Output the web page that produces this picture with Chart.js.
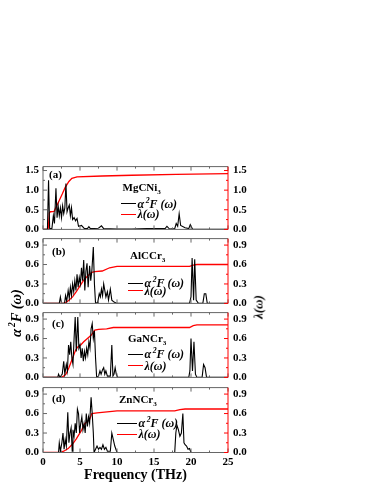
<!DOCTYPE html>
<html>
<head>
<meta charset="utf-8">
<script src="https://cdn.jsdelivr.net/npm/chart.js@4.4.0/dist/chart.umd.min.js"></script>
<style>
  body { margin: 0; background: #fff; }
  #wrap { position: relative; width: 374px; height: 484px; overflow: hidden; font-family: "Liberation Serif", "DejaVu Serif", serif; }
  canvas { position: absolute; left: 0; }
  .t { position: absolute; white-space: nowrap; transform: translateY(-50%); color: #000; line-height: 1; }
  .b { font-weight: bold; }
  .i { font-style: italic; }
  .ln { position: absolute; height: 0; }
  sup, sub { font-size: 65%; line-height: 0; }
</style>
</head>
<body>
<div id="wrap">
  <canvas id="c0" width="374" height="86" style="top:155px"></canvas>
  <canvas id="c1" width="374" height="88" style="top:227px"></canvas>
  <canvas id="c2" width="374" height="88" style="top:301px"></canvas>
  <canvas id="c3" width="374" height="108" style="top:376px"></canvas>
</div>
<script>
// frequency axis
const freqTicks = [0, 5, 10, 15, 20, 25];
const freqMinor = [2.5, 7.5, 12.5, 17.5, 22.5];
const ticksA = [0, 0.5, 1.0, 1.5];
const ticksBCD = [0, 0.3, 0.6, 0.9];

const compounds = ['MgCNi', 'AlCCr', 'GaNCr', 'ZnNCr'];
const panelTags = ['(a)', '(b)', '(c)', '(d)'];

// [frequency THz, value]
const mgSpec = [[0,0],[0.6,0],[0.75,1.25],[0.9,0.02],[1.2,0.02],[1.4,0.35],[1.55,0.15],[1.75,1.05],[1.9,0.3],[2.05,0.6],[2.2,0.35],[2.35,0.55],[2.5,0.3],[2.65,0.6],[2.8,0.4],[2.95,0.55],[3.1,1.17],[3.25,0.45],[3.4,0.55],[3.55,0.62],[3.7,0.35],[3.85,0.55],[4.0,0.25],[4.2,0.3],[4.4,0.22],[4.6,0.28],[4.8,0.08],[5.2,0.1],[5.6,0.02],[6.0,0.02],[6.2,0.07],[6.4,0.02],[7.5,0.03],[7.9,0.09],[8.2,0.02],[10,0.01],[12,0.01],[14,0.02],[16.5,0.02],[16.75,0.08],[17.1,0.01],[17.8,0.02],[18.0,0.15],[18.2,0.08],[18.4,0.4],[18.6,0.1],[19.2,0.04],[19.7,0.02],[19.9,0.12],[20.2,0.01],[25,0]];
const mgLam = [[0,0],[0.7,0],[0.85,0.42],[1.0,0.45],[1.5,0.46],[2.1,0.7],[2.6,0.9],[3.0,1.07],[3.5,1.22],[3.9,1.3],[4.6,1.34],[8,1.36],[12,1.38],[18,1.4],[25,1.42]];

const alSpec = [[0,0],[2.2,0],[2.35,0.1],[2.5,0],[2.9,0],[3.05,0.12],[3.2,0.03],[3.4,0.2],[3.55,0.08],[3.7,0.25],[3.85,0.12],[4.0,0.3],[4.15,0.18],[4.3,0.35],[4.45,0.2],[4.6,0.45],[4.75,0.25],[4.9,0.4],[5.05,0.3],[5.2,0.55],[5.35,0.35],[5.5,0.67],[5.65,0.2],[5.8,0.5],[5.95,0.62],[6.1,0.25],[6.3,0.58],[6.45,0.35],[6.6,0.5],[6.8,0.87],[6.95,0.3],[7.1,0],[7.4,0.02],[7.6,0.15],[7.75,0.1],[7.9,0.22],[8.05,0.12],[8.2,0.3],[8.35,0.2],[8.5,0.1],[8.7,0.18],[8.85,0.05],[9.1,0.22],[9.3,0.05],[9.6,0.02],[10,0],[19.8,0],[20.0,0.1],[20.15,0.7],[20.35,0.05],[20.5,0.68],[20.7,0.05],[21.0,0],[21.6,0],[21.8,0.15],[22.0,0.15],[22.2,0],[25,0]];
const alLam = [[0,0],[2.8,0],[3.3,0.03],[4.0,0.1],[4.5,0.18],[5.0,0.27],[5.5,0.36],[6.0,0.42],[6.6,0.48],[7.0,0.49],[8.0,0.5],[9.0,0.55],[10.0,0.57],[19.8,0.57],[20.3,0.59],[20.8,0.6],[25,0.6]];

const gaSpec = [[0,0],[2.0,0],[2.1,0.05],[2.3,0],[2.6,0.05],[2.8,0.25],[2.95,0.05],[3.15,0.2],[3.3,0.1],[3.45,0.5],[3.6,0.35],[3.75,0.55],[3.9,0.3],[4.05,0.2],[4.2,0.6],[4.35,0.93],[4.5,0.4],[4.7,0.93],[4.85,0.45],[5.0,0.5],[5.15,0.3],[5.3,0.45],[5.45,0.25],[5.6,0.4],[5.75,0.3],[5.9,0.45],[6.05,0.35],[6.2,0.55],[6.35,0.45],[6.5,0.75],[6.65,0.83],[6.8,0.6],[6.95,0.72],[7.1,0.3],[7.25,0],[7.5,0.02],[7.7,0.1],[7.85,0.05],[8.05,0.12],[8.2,0.15],[8.35,0.05],[8.5,0.1],[8.7,0.02],[9.1,0.02],[9.3,0.5],[9.45,0.02],[9.6,0.05],[9.75,0.15],[9.9,0.05],[10.1,0],[19.7,0],[19.85,0.1],[20.0,0.6],[20.2,0.1],[20.4,0.55],[20.6,0.05],[20.8,0],[21.5,0],[21.7,0.2],[21.9,0.15],[22.1,0],[25,0]];
const gaLam = [[0,0],[2.4,0],[2.8,0.02],[3.1,0.05],[3.5,0.15],[4.0,0.3],[4.4,0.42],[4.7,0.47],[5.1,0.5],[5.5,0.55],[6.0,0.6],[6.5,0.65],[7.0,0.73],[7.5,0.74],[8.6,0.75],[9.5,0.77],[19.8,0.77],[20.3,0.8],[20.8,0.81],[25,0.81]];

const znSpec = [[0,0],[2.1,0],[2.2,0.15],[2.35,0.02],[2.55,0.15],[2.7,0.3],[2.85,0.05],[3.0,0.2],[3.15,0.1],[3.35,0.62],[3.5,0.15],[3.65,0.3],[3.8,0.38],[3.95,0.02],[4.05,0.35],[4.2,0.25],[4.35,0.45],[4.5,0.3],[4.65,0.67],[4.8,0.6],[4.95,0.3],[5.1,0.45],[5.25,0.55],[5.4,0.35],[5.55,0.45],[5.7,0.3],[5.85,0.6],[6.0,0.4],[6.15,0.55],[6.3,0.45],[6.5,0.85],[6.65,0.6],[6.8,0.3],[6.9,0],[7.1,0.05],[7.3,0.1],[7.5,0.05],[7.7,0.08],[7.9,0.05],[8.1,0.12],[8.3,0.05],[8.5,0.08],[8.7,0.02],[9.1,0.02],[9.3,0.3],[9.5,0.2],[9.7,0.1],[9.85,0.05],[10,0],[17.8,0],[17.95,0.3],[18.1,0.42],[18.3,0.35],[18.5,0.25],[18.7,0.3],[18.9,0.6],[19.05,0.15],[19.2,0.12],[19.4,0.1],[19.6,0.05],[19.8,0.06],[20.0,0],[25,0]];
const znLam = [[0,0],[2.2,0],[2.8,0.02],[3.4,0.06],[4.0,0.13],[4.5,0.21],[5.2,0.34],[5.6,0.44],[6.3,0.51],[6.6,0.6],[7.3,0.61],[9.0,0.63],[10,0.64],[17.8,0.64],[18.5,0.66],[19.2,0.67],[25,0.67]];

const spectra = [mgSpec, alSpec, gaSpec, znSpec];
const lambdas = [mgLam, alLam, gaLam, znLam];

const RED = '#ff0000';
const FRAME = '#666';
const tickFont = { family: 'Liberation Serif', size: 11, weight: 'bold' };

// panel layout: canvas padding top / bottom, y max
const panels = [
  { pt: 10, pb: 10, max: 1.6, ticks: ticksA },
  { pt: 10.5, pb: 10.5, max: 1.0, ticks: ticksBCD },
  { pt: 10, pb: 10, max: 1.0, ticks: ticksBCD },
  { pt: 10, pb: 0, max: 1.0, ticks: ticksBCD }
];

function mids(arr, max) {
  const out = [];
  for (let i = 0; i < arr.length; i++) {
    const step = arr[1] - arr[0];
    const m = arr[i] + step / 2;
    if (m < max) out.push(m);
  }
  return out;
}

const framePlugin = {
  id: 'frame',
  afterDatasetsDraw(chart) {
    const ctx = chart.ctx;
    const a = chart.chartArea;
    const xs = chart.scales.x, ys = chart.scales.y, y1 = chart.scales.y1;
    const yt = chart.options.plugins.frame.ticks;
    const ym = mids(yt, ys.max);
    ctx.save();
    ctx.lineWidth = 1;
    ctx.strokeStyle = FRAME;
    ctx.beginPath();
    ctx.moveTo(a.right, a.top); ctx.lineTo(a.left, a.top); ctx.lineTo(a.left, a.bottom); ctx.lineTo(a.right, a.bottom);
    // x ticks top & bottom
    freqTicks.forEach(v => {
      const px = xs.getPixelForValue(v);
      ctx.moveTo(px, a.bottom); ctx.lineTo(px, a.bottom - 4);
      ctx.moveTo(px, a.top); ctx.lineTo(px, a.top + 4);
    });
    freqMinor.forEach(v => {
      const px = xs.getPixelForValue(v);
      ctx.moveTo(px, a.bottom); ctx.lineTo(px, a.bottom - 2);
      ctx.moveTo(px, a.top); ctx.lineTo(px, a.top + 2);
    });
    yt.forEach(v => {
      const py = ys.getPixelForValue(v);
      ctx.moveTo(a.left, py); ctx.lineTo(a.left + 4, py);
    });
    ym.forEach(v => {
      const py = ys.getPixelForValue(v);
      ctx.moveTo(a.left, py); ctx.lineTo(a.left + 2, py);
    });
    ctx.stroke();
    // right axis in red
    ctx.strokeStyle = RED;
    ctx.beginPath();
    ctx.moveTo(a.right, a.top); ctx.lineTo(a.right, a.bottom);
    yt.forEach(v => {
      const py = y1.getPixelForValue(v);
      ctx.moveTo(a.right, py); ctx.lineTo(a.right - 4, py);
    });
    ym.forEach(v => {
      const py = y1.getPixelForValue(v);
      ctx.moveTo(a.right, py); ctx.lineTo(a.right - 2, py);
    });
    ctx.stroke();
    ctx.restore();
  }
};

function yScale(p, pos, width, pad) {
  return {
    type: 'linear', position: pos, min: 0, max: p.max,
    afterBuildTicks: s => { s.ticks = p.ticks.map(v => ({ value: v })); },
    afterFit: s => { s.width = width; },
    grid: { display: false, drawTicks: false },
    border: { display: false },
    ticks: { font: tickFont, color: '#000', padding: pad, callback: v => v.toFixed(1) }
  };
}

panels.forEach((p, i) => {
  const last = i === panels.length - 1;
  const xScale = {
    type: 'linear', min: 0, max: 25,
    afterBuildTicks: s => { s.ticks = freqTicks.map(v => ({ value: v })); },
    afterFit: s => { s.height = last ? 31.5 : 0; },
    grid: { display: false, drawTicks: false },
    border: { display: false },
    ticks: { display: last, font: tickFont, color: '#000', padding: 3, maxRotation: 0 },
    title: {
      display: last, text: 'Frequency (THz)', color: '#000', padding: 0,
      font: { family: 'Liberation Serif', size: 14, weight: 'bold' }
    }
  };
  new Chart(document.getElementById('c' + i), {
    type: 'line',
    data: {
      datasets: [
        {
          data: spectra[i].map(d => ({ x: d[0], y: d[1] })),
          borderColor: '#000', borderWidth: 1.1, pointRadius: 0, yAxisID: 'y'
        },
        {
          data: lambdas[i].map(d => ({ x: d[0], y: d[1] })),
          borderColor: RED, borderWidth: 1.3, pointRadius: 0, yAxisID: 'y1'
        }
      ]
    },
    options: {
      responsive: false, animation: false, events: [],
      layout: { padding: { top: p.pt, bottom: p.pb, left: 0, right: 0 } },
      plugins: { legend: { display: false }, tooltip: { enabled: false }, frame: { ticks: p.ticks } },
      scales: { x: xScale, y: yScale(p, 'left', 43, 4), y1: yScale(p, 'right', 146, 5) }
    },
    plugins: [framePlugin]
  });
});

// text overlays
const wrap = document.getElementById('wrap');
function addText(html, x, y, cls, size) {
  const d = document.createElement('div');
  d.className = 't ' + cls;
  d.style.left = x + 'px';
  d.style.top = y + 'px';
  d.style.fontSize = size + 'px';
  d.innerHTML = html;
  wrap.appendChild(d);
  return d;
}
function addLine(x1, x2, y, color) {
  const d = document.createElement('div');
  d.className = 'ln';
  d.style.left = x1 + 'px';
  d.style.width = (x2 - x1) + 'px';
  d.style.top = (y - 0.6) + 'px';
  d.style.borderTop = '1.3px solid ' + color;
  wrap.appendChild(d);
}

const tagPos = [[49, 173.5], [52, 251], [52, 322.5], [52, 397.5]];
const namePos = [[122.5, 186.5], [130, 255], [128, 338], [119, 399]];
const legPos = [[121, 136, 204, 214.3], [128, 143, 283.3, 290.7], [128, 143, 354.3, 366], [117, 137, 423.3, 434.3]];

panelTags.forEach((t, i) => addText(t, tagPos[i][0], tagPos[i][1], 'b', 11));
compounds.forEach((c, i) => addText(c + '<sub>3</sub>', namePos[i][0], namePos[i][1], 'b', 11));
legPos.forEach(l => {
  addLine(l[0], l[1], l[2], '#000');
  addLine(l[0], l[1], l[3], RED);
  addText('&alpha;<sup>&thinsp;2</sup><i>F</i> (&omega;)', l[1] + 1.5, l[2], 'b i', 12);
  addText('&lambda;(&omega;)', l[1] + 1.5, l[3], 'b i', 12);
});

const yl = addText('&alpha;<sup>&thinsp;2</sup><i>F</i> (&omega;)', 16, 313, 'b i', 14.5);
yl.style.transform = 'translate(-50%,-50%) rotate(-90deg)';
const yr = addText('&lambda;(&omega;)', 258, 306.5, 'b i', 13);
yr.style.transform = 'translate(-50%,-50%) rotate(-90deg)';
</script>
</body>
</html>
